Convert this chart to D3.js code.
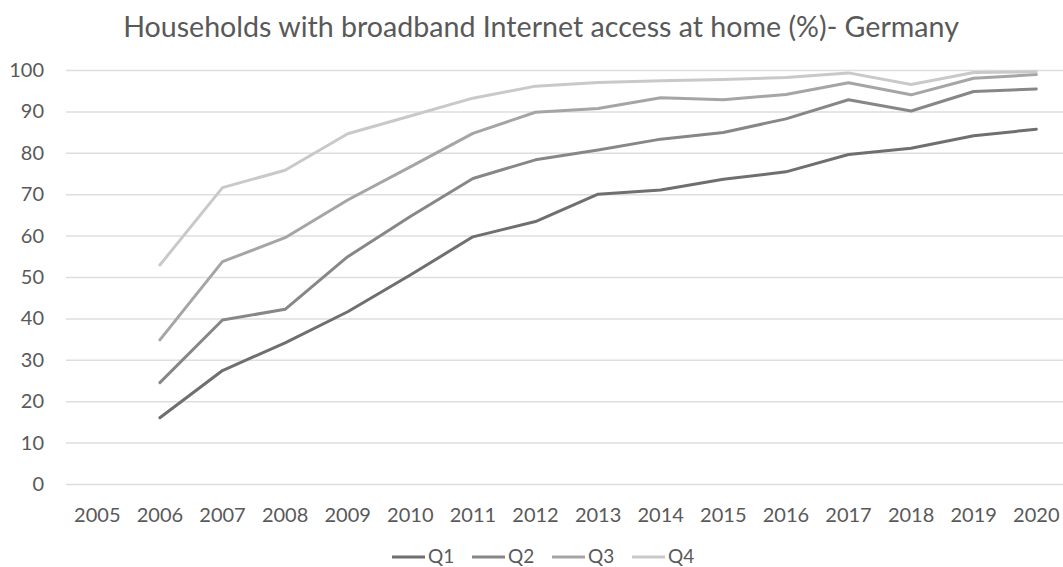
<!DOCTYPE html>
<html>
<head>
<meta charset="utf-8">
<script src="https://cdn.jsdelivr.net/npm/d3@7"></script>
<style>
  html, body { margin: 0; padding: 0; background: #fff; }
  svg { display: block; font-family: Lato, "Open Sans", sans-serif; }
</style>
</head>
<body>
<svg id="chart" width="1063" height="567"></svg>
<script>
// Household broadband access by income quartile, Germany
const years = [2005, 2006, 2007, 2008, 2009, 2010, 2011, 2012, 2013, 2014, 2015, 2016, 2017, 2018, 2019, 2020];
const q1 = [null, 16.0, 27.4, 34.1, 41.6, 50.5, 59.7, 63.4, 70.0, 71.0, 73.6, 75.4, 79.6, 81.1, 84.1, 85.7];
const q2 = [null, 24.5, 39.6, 42.2, 54.9, 64.6, 73.8, 78.3, 80.7, 83.3, 84.9, 88.2, 92.8, 90.1, 94.8, 95.4];
const q3 = [null, 34.8, 53.7, 59.5, 68.6, 76.6, 84.7, 89.8, 90.7, 93.3, 92.8, 94.1, 96.9, 94.0, 98.0, 98.9];
const q4 = [null, 52.9, 71.6, 75.8, 84.6, 88.9, 93.2, 96.1, 97.0, 97.4, 97.7, 98.2, 99.3, 96.5, 99.4, 99.6];
const seriesNames = ["Q1", "Q2", "Q3", "Q4"];
const yTicks = [0, 10, 20, 30, 40, 50, 60, 70, 80, 90, 100];
const titleText = "Households with broadband Internet access at home (%)- Germany";

const seriesValues = [q1, q2, q3, q4];
const colors = ["#6f6f6f", "#878787", "#a5a5a5", "#c9c9c9"];
const textColor = "#595959";

const svg = d3.select("#chart");

const x = d3.scaleBand().domain(years).range([66, 66 + 16 * 62.6]);
const y = d3.scaleLinear().domain([0, 100]).range([484, 70]);

// title
svg.append("text")
  .attr("x", 541).attr("y", 37)
  .attr("text-anchor", "middle")
  .attr("fill", textColor)
  .style("font-size", "28.6px")
  .text(titleText);

// horizontal gridlines
svg.append("g")
  .selectAll("line")
  .data(yTicks)
  .join("line")
  .attr("x1", 66).attr("x2", 1063)
  .attr("y1", d => y(d) + 0.5).attr("y2", d => y(d) + 0.5)
  .attr("stroke", "#dedede")
  .attr("stroke-width", 1.5);

// y axis labels
const yAxis = d3.axisLeft(y).tickValues(yTicks).tickSize(0).tickPadding(0);
const gy = svg.append("g").attr("transform", "translate(44,0)").call(yAxis);
gy.select(".domain").remove();
gy.selectAll("text")
  .attr("fill", textColor)
  .style("font-size", "20px")
  .style("font-family", "Lato, sans-serif");

// x axis labels
const xAxis = d3.axisBottom(x).tickSize(0).tickPadding(0);
const gx = svg.append("g").attr("transform", "translate(0,508)").call(xAxis);
gx.select(".domain").remove();
gx.selectAll("text")
  .attr("dy", "0.72em")
  .attr("fill", textColor)
  .style("font-size", "20px")
  .style("font-family", "Lato, sans-serif");

// series lines
const line = d3.line()
  .defined(d => d.v != null)
  .x(d => x(d.year) + x.bandwidth() / 2)
  .y(d => y(d.v));

seriesValues.forEach((vals, i) => {
  const pts = years.map((yr, j) => ({ year: yr, v: vals[j] }));
  svg.append("path")
    .datum(pts)
    .attr("d", line)
    .attr("fill", "none")
    .attr("stroke", colors[i])
    .attr("stroke-width", 3)
    .attr("stroke-linejoin", "round")
    .attr("stroke-linecap", "round");
});

// legend
const legend = svg.append("g");
seriesNames.forEach((name, i) => {
  const lx = 392 + i * 80;
  legend.append("line")
    .attr("x1", lx).attr("x2", lx + 33)
    .attr("y1", 557).attr("y2", 557)
    .attr("stroke", colors[i])
    .attr("stroke-width", 3);
  legend.append("text")
    .attr("x", lx + 36).attr("y", 563)
    .attr("fill", textColor)
    .style("font-size", "19px")
    .text(name);
});
</script>
</body>
</html>
